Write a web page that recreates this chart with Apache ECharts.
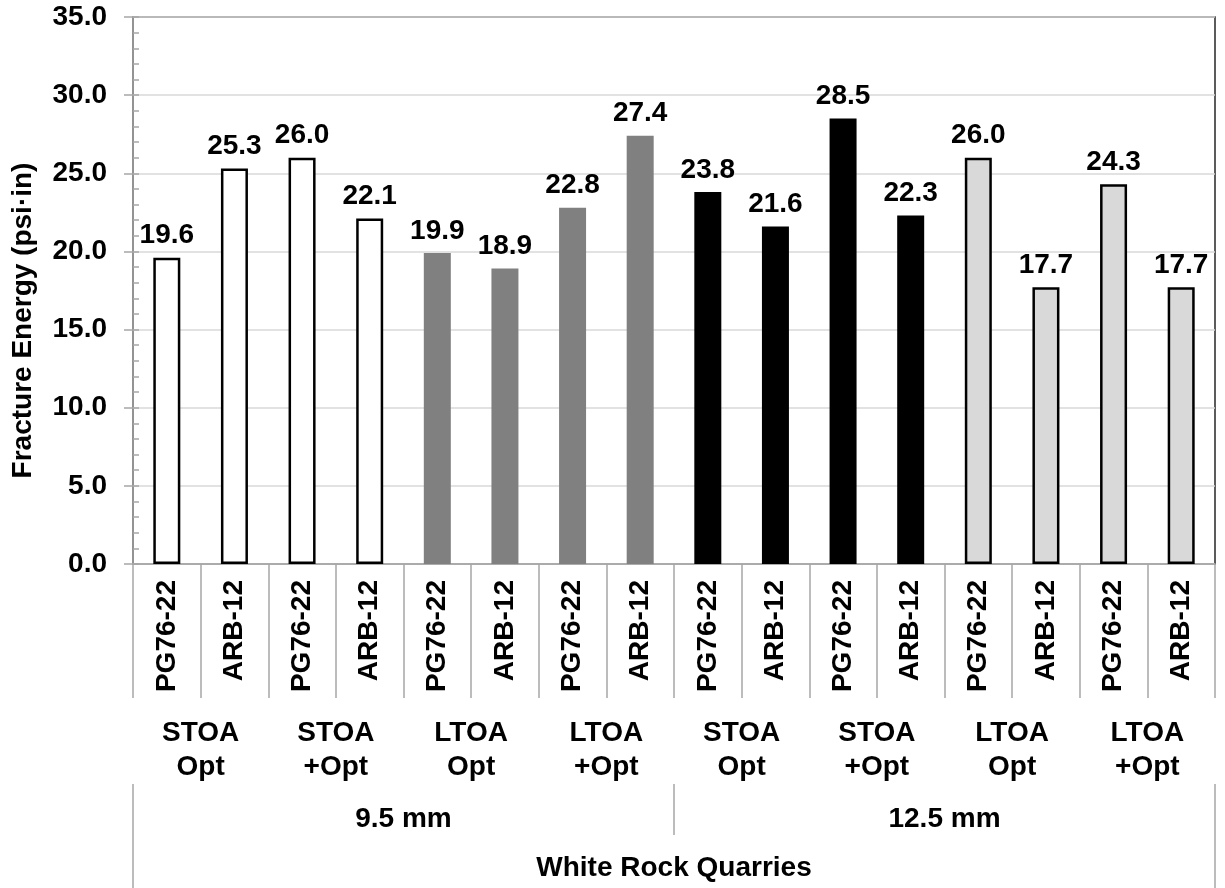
<!DOCTYPE html>
<html>
<head>
<meta charset="utf-8">
<script src="https://cdn.jsdelivr.net/npm/echarts@6/dist/echarts.min.js"></script>
<style>
  html, body { margin: 0; padding: 0; background: #fff; }
  #chart { width: 1225px; height: 888px; }
</style>
</head>
<body>
<div id="chart"></div>
<script>
  // binder labels, one per bar
  var binderLabels = ['PG76-22', 'ARB-12', 'PG76-22', 'ARB-12', 'PG76-22', 'ARB-12', 'PG76-22', 'ARB-12',
                      'PG76-22', 'ARB-12', 'PG76-22', 'ARB-12', 'PG76-22', 'ARB-12', 'PG76-22', 'ARB-12'];
  // conditioning labels, one per pair of bars
  var conditionLabels = ['STOA\nOpt', 'STOA\n+Opt', 'LTOA\nOpt', 'LTOA\n+Opt',
                         'STOA\nOpt', 'STOA\n+Opt', 'LTOA\nOpt', 'LTOA\n+Opt'];
  var sizeLabels = ['9.5 mm', '12.5 mm'];
  var sourceLabels = ['White Rock Quarries'];

  var fractureEnergy = [19.6, 25.3, 26.0, 22.1, 19.9, 18.9, 22.8, 27.4,
                        23.8, 21.6, 28.5, 22.3, 26.0, 17.7, 24.3, 17.7];

  var yTicks = [0, 5, 10, 15, 20, 25, 30, 35];

  // one fill for each block of four bars
  var blockStyles = [
    { color: '#ffffff', borderColor: '#000', borderWidth: 2.5 },
    { color: '#808080', borderWidth: 0 },
    { color: '#000000', borderWidth: 0 },
    { color: '#d9d9d9', borderColor: '#000', borderWidth: 2.5 }
  ];

  var font = '"Liberation Sans", Arial, sans-serif';
  var sepColor = '#a6a6a6';

  var barData = fractureEnergy.map(function (v, i) {
    return { value: v, itemStyle: blockStyles[Math.floor(i / 4)] };
  });

  function levelAxis(data, offset, tickLen, margin, extra) {
    var ax = {
      type: 'category',
      position: 'bottom',
      offset: offset,
      data: data,
      axisLine: { show: false },
      axisTick: { show: true, interval: 0, length: tickLen, lineStyle: { color: sepColor, width: 1.5 } },
      axisLabel: {
        interval: 0, margin: margin, color: '#000', fontFamily: font,
        fontWeight: 'bold', fontSize: 28, lineHeight: 34, align: 'center',
        hideOverlap: false, overflow: 'none'
      }
    };
    if (extra) extra(ax);
    return ax;
  }

  var chart = echarts.init(document.getElementById('chart'));

  var option = {
    animation: false,
    backgroundColor: '#fff',
    grid: {
      left: 133, right: 10, top: 17, bottom: 324,
      outerBoundsMode: 'none',
      containLabel: false,
      show: true, borderColor: '#262626', borderWidth: 1.5
    },
    xAxis: [
      levelAxis(binderLabels, 0, 134, 16, function (ax) {
        ax.axisLine = { show: true, lineStyle: { color: sepColor, width: 1.5 } };
        ax.axisLabel.rotate = 90;
        ax.axisLabel.lineHeight = 30;
        delete ax.axisLabel.align;
      }),
      levelAxis(conditionLabels, 134, 86, 18),
      levelAxis(sizeLabels, 220, 51, 18),
      levelAxis(sourceLabels, 271, 53, 16)
    ],
    yAxis: [
      {
        type: 'value',
        min: yTicks[0],
        max: yTicks[yTicks.length - 1],
        interval: 5,
        name: 'Fracture Energy (psi·in)',
        nameLocation: 'middle',
        nameGap: 96,
        nameTextStyle: {
          color: '#000', fontFamily: font, fontWeight: 'bold', fontSize: 28,
          padding: [0, 60, 0, 0]
        },
        axisLine: { show: true, lineStyle: { color: sepColor, width: 1.5 } },
        axisTick: { show: true, inside: false, length: 9, lineStyle: { color: sepColor, width: 1.5 } },
        axisLabel: {
          margin: 26, color: '#000', fontFamily: font, fontWeight: 'bold', fontSize: 28,
          formatter: function (v) { return v.toFixed(1); }
        },
        splitLine: { show: true, lineStyle: { color: '#d9d9d9', width: 1.5 } }
      },
      {
        // minor ticks drawn on the inside
        type: 'value',
        position: 'left',
        min: yTicks[0],
        max: yTicks[yTicks.length - 1],
        interval: 1,
        axisLine: { show: false },
        axisTick: { show: true, inside: true, length: 6, lineStyle: { color: sepColor, width: 1.5 } },
        axisLabel: { show: false },
        splitLine: { show: false }
      }
    ],
    series: [
      {
        type: 'bar',
        xAxisIndex: 0,
        yAxisIndex: 0,
        barWidth: 27,
        data: barData,
        label: {
          show: true,
          position: 'top',
          distance: 8,
          color: '#000',
          fontFamily: font,
          fontWeight: 'bold',
          fontSize: 28,
          formatter: function (p) { return p.value.toFixed(1); }
        }
      }
    ]
  };

  chart.setOption(option);
</script>
</body>
</html>
